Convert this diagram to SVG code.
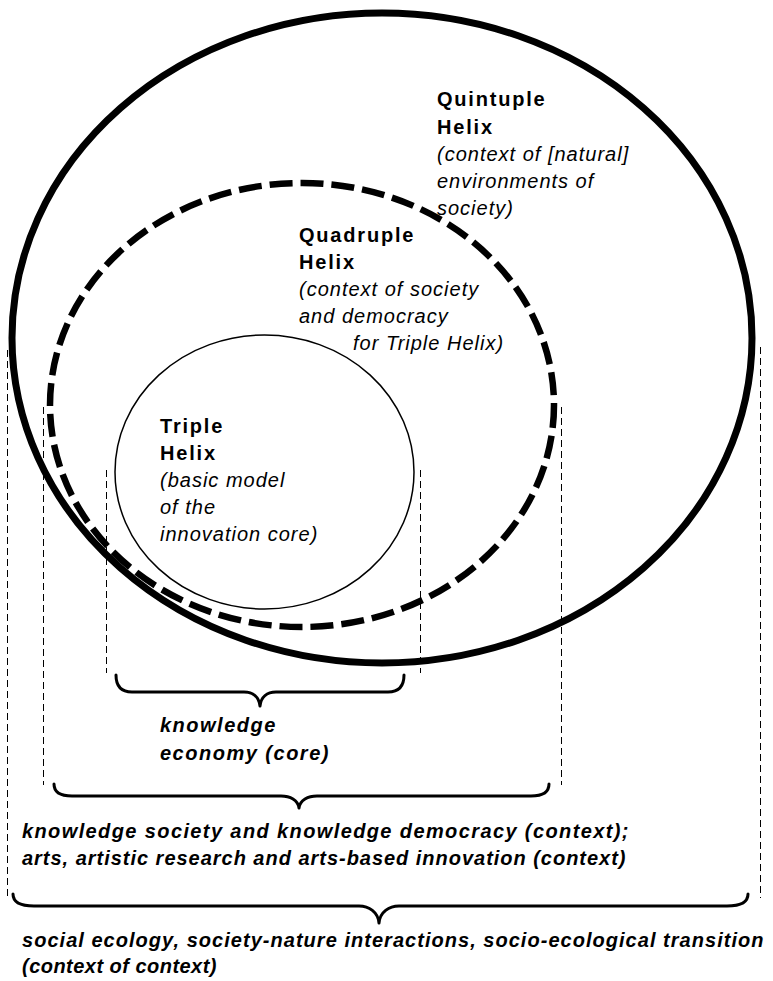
<svg xmlns="http://www.w3.org/2000/svg" width="773" height="981" viewBox="0 0 773 981">
<style>
  text { font-family: "Liberation Sans", Arial, sans-serif; font-size: 20px; fill: #000; letter-spacing: 1px; }
  .b { font-weight: bold; letter-spacing: 1.8px; }
  .i { font-style: italic; }
  .bi { font-weight: bold; font-style: italic; letter-spacing: 1.5px; }
  .guide { fill: none; stroke: #000; stroke-width: 1; stroke-dasharray: 7 4; }
  .brace { fill: none; stroke: #000; stroke-width: 3; stroke-linecap: round; stroke-linejoin: round; }
</style>
<rect width="773" height="981" fill="#fff"/>

<g id="quintuple">
  <ellipse cx="382" cy="338" rx="370" ry="325" fill="none" stroke="#000" stroke-width="7"/>
  <text class="b" x="437" y="106">Quintuple</text>
  <text class="b" x="437" y="134">Helix</text>
  <text class="i" x="437" y="161">(context of [natural]</text>
  <text class="i" x="437" y="188">environments of</text>
  <text class="i" x="437" y="215">society)</text>
</g>

<g id="quadruple">
  <ellipse cx="302" cy="405" rx="252" ry="222" fill="none" stroke="#fff" stroke-width="3"/>
  <ellipse cx="302" cy="405" rx="252" ry="222" fill="none" stroke="#000" stroke-width="6.5" stroke-dasharray="23 8"/>
  <text class="b" x="299" y="242">Quadruple</text>
  <text class="b" x="299" y="269">Helix</text>
  <text class="i" x="299" y="296">(context of society</text>
  <text class="i" x="299" y="323">and democracy</text>
  <text class="i" x="353" y="350">for Triple Helix)</text>
</g>

<g id="triple">
  <ellipse cx="264.5" cy="472" rx="149.5" ry="137" fill="none" stroke="#000" stroke-width="1.5"/>
  <text class="b" x="160" y="433">Triple</text>
  <text class="b" x="160" y="460">Helix</text>
  <text class="i" x="160" y="487">(basic model</text>
  <text class="i" x="160" y="514">of the</text>
  <text class="i" x="160" y="541">innovation core)</text>
</g>

<g id="connectors">
  <line class="guide" x1="7.5" y1="350" x2="7.5" y2="898"/>
  <line class="guide" x1="760.5" y1="347" x2="760.5" y2="898"/>
  <line class="guide" x1="43.5" y1="407" x2="43.5" y2="785"/>
  <line class="guide" x1="561.5" y1="407" x2="561.5" y2="785"/>
  <line class="guide" x1="106.5" y1="470" x2="106.5" y2="673"/>
  <line class="guide" x1="420.5" y1="470" x2="420.5" y2="673"/>
  <path class="brace" d="M116,675 C116,686 121,692 132,692 L244,692 C253,692 259,697 260,706 C261,697 267,692 276,692 L388,692 C399,692 404,686 404,675"/>
  <path class="brace" d="M54,784 C54,792 60,796 72,796 L281,796 C290,796 298,800 299,808 C300,800 308,796 317,796 L531,796 C543,796 549,792 549,784"/>
  <path class="brace" d="M13,894 C13,902 20,906 34,906 L359,906 C369,906 378,912 379,923 C380,912 389,906 399,906 L727,906 C741,906 748,902 748,894"/>
</g>

<g id="labels">
  <text class="bi" x="160" y="732">knowledge</text>
  <text class="bi" x="160" y="760">economy (core)</text>
  <text class="bi" x="22" y="838" textLength="608">knowledge society and knowledge democracy (context);</text>
  <text class="bi" x="22" y="865" textLength="605">arts, artistic research and arts-based innovation (context)</text>
  <text class="bi" x="22" y="947" textLength="743">social ecology, society-nature interactions, socio-ecological transition</text>
  <text class="bi" x="22" y="973" textLength="196">(context of context)</text>
</g>
</svg>
